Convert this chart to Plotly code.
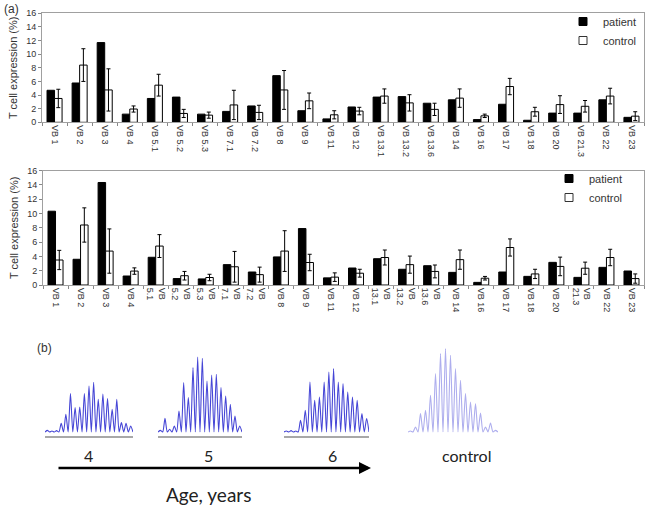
import plotly.graph_objects as go

W, H = 645, 507

categories = ["VB 1", "VB 2", "VB 3", "VB 4", "VB 5.1", "VB 5.2", "VB 5.3", "VB 7.1",
              "VB 7.2", "VB 8", "VB 9", "VB 11", "VB 12", "VB 13.1", "VB 13.2", "VB 13.6",
              "VB 14", "VB 16", "VB 17", "VB 18", "VB 20", "VB 21.3", "VB 22", "VB 23"]
bottom_ticktext = ["VB 1", "VB 2", "VB 3", "VB 4", "VB<br>5.1", "VB<br>5.2", "VB<br>5.3", "VB<br>7.1",
                   "VB<br>7.2", "VB 8", "VB 9", "VB 11", "VB 12", "VB<br>13.1", "VB<br>13.2", "VB<br>13.6",
                   "VB 14", "VB 16", "VB 17", "VB 18", "VB 20", "VB<br>21.3", "VB 22", "VB 23"]

patient_top = [4.7, 5.77, 11.7, 1.2, 3.5, 3.7, 1.2, 1.6, 2.4, 6.85, 1.7, 0.5,
               2.25, 3.7, 3.77, 2.8, 3.3, 0.4, 2.65, 0.3, 1.35, 1.35, 3.3, 0.73]
patient_bottom = [10.33, 3.6, 14.35, 1.26, 3.88, 0.9, 0.85, 2.85, 1.82, 3.93, 7.9, 1.0,
                  2.38, 3.68, 2.2, 2.7, 1.77, 0.37, 1.82, 1.21, 3.17, 1.07, 2.47, 1.96]
control_mean = [3.5, 8.4, 4.75, 1.95, 5.45, 1.3, 1.05, 2.55, 1.45, 4.75, 3.15, 1.1,
                1.65, 3.85, 2.85, 1.9, 3.55, 0.95, 5.25, 1.55, 2.6, 2.35, 3.85, 0.9]
control_err = [1.35, 2.4, 3.1, 0.45, 1.6, 0.6, 0.45, 2.15, 1.05, 2.85, 1.15, 0.6,
               0.55, 1.05, 1.2, 0.9, 1.35, 0.25, 1.2, 0.65, 1.3, 0.85, 1.15, 0.65]
y_ticks = [0, 2, 4, 6, 8, 10, 12, 14, 16]

# CDR3 spectratype peak heights (arbitrary units)
age4_peaks = [5, 3, 4, 26, 53, 115, 73, 75, 115, 138, 149, 98, 114, 100, 68, 98, 28, 26, 18]
age5_peaks = [5, 41, 8, 18, 63, 148, 103, 193, 225, 221, 153, 171, 173, 133, 108, 83, 48, 18]
age6_peaks = [3, 4, 3, 35, 65, 150, 95, 105, 150, 180, 190, 150, 145, 120, 105, 95, 55, 40]
control_peaks = [3, 15, 55, 65, 110, 175, 235, 250, 230, 190, 155, 115, 90, 85, 57, 15, 27, 5]
spectra_labels = ["4", "5", "6", "control"]

FONT = "Liberation Sans, Arial, sans-serif"
TXT = "#333333"


def px(x):
    return x / W


def py(y):
    return 1 - y / H


fig = go.Figure()

patient_marker = dict(color="black", line=dict(color="black", width=1))
control_marker = dict(color="white", line=dict(color="black", width=1))
err = dict(type="data", array=control_err, color="black", thickness=1, width=2)

for xa, ya, pvals, lg in [("x", "y", patient_top, "legend"), ("x2", "y2", patient_bottom, "legend2")]:
    fig.add_trace(go.Bar(x=categories, y=pvals, name="patient", marker=patient_marker,
                         xaxis=xa, yaxis=ya, showlegend=False))
    fig.add_trace(go.Bar(x=categories, y=control_mean, name="control", marker=control_marker,
                         error_y=err, xaxis=xa, yaxis=ya, showlegend=False))
    # legend entries (small square keys as in the original)
    fig.add_trace(go.Scatter(x=[None], y=[None], mode="markers", name="patient",
                             marker=dict(symbol="square", size=8, color="black", line=dict(color="black", width=1)),
                             xaxis=xa, yaxis=ya, legend=lg))
    fig.add_trace(go.Scatter(x=[None], y=[None], mode="markers", name="control",
                             marker=dict(symbol="square", size=8, color="white", line=dict(color="#333", width=1)),
                             xaxis=xa, yaxis=ya, legend=lg))

# ---- panel (b) spectratypes
spectra = [age4_peaks, age5_peaks, age6_peaks, control_peaks]
spec_colors = ["#4646d6", "#4646d6", "#4646d6", "#aeaeee"]
spec_domains = [(45, 133), (158, 242), (284, 369), (408, 498)]
for k, peaks in enumerate(spectra):
    xs, ys = [], []
    for i, h in enumerate(peaks):
        xs += [i - 0.5, i]
        ys += [0, h]
    xs.append(len(peaks) - 0.5)
    ys.append(0)
    n = k + 3
    fig.add_trace(go.Scatter(x=xs, y=ys, mode="lines", line=dict(color=spec_colors[k], width=1.1, shape="spline", smoothing=0.7),
                             xaxis=f"x{n}", yaxis=f"y{n}", showlegend=False, hoverinfo="skip"))

common_y = dict(range=[0, 16], tickvals=y_ticks, ticks="outside", ticklen=3, tickcolor="#888",
                showline=True, linecolor="#a0a0a0", mirror=True, showgrid=False, zeroline=False,
                tickfont=dict(size=9, color=TXT, family=FONT),
                title=dict(text="T cell expression (%)", font=dict(size=11, color=TXT, family=FONT), standoff=6))
common_x = dict(type="category", ticks="outside", ticklen=3, tickcolor="#888", tickson="boundaries",
                showline=True, linecolor="#a0a0a0", mirror=True, showgrid=False, tickangle=90,
                tickfont=dict(size=9, color=TXT, family=FONT))

layout = dict(
    width=W, height=H, margin=dict(l=0, r=0, t=0, b=0, autoexpand=False),
    paper_bgcolor="white", plot_bgcolor="white",
    barmode="group", bargap=0.4, bargroupgap=0.0,
    xaxis=dict(domain=[px(42), px(644)], anchor="y", **common_x),
    yaxis=dict(domain=[py(122.3), py(13.3)], anchor="x", **common_y),
    xaxis2=dict(domain=[px(43), px(644)], anchor="y2", tickvals=categories, ticktext=bottom_ticktext, **common_x),
    yaxis2=dict(domain=[py(285), py(170.7)], anchor="x2", **common_y),
    legend=dict(x=px(563), y=py(7), xanchor="left", yanchor="top", bgcolor="rgba(0,0,0,0)",
                font=dict(size=11, color=TXT, family=FONT), itemwidth=30, tracegroupgap=0),
    legend2=dict(x=px(549), y=py(164), xanchor="left", yanchor="top", bgcolor="rgba(0,0,0,0)",
                 font=dict(size=11, color=TXT, family=FONT), itemwidth=30, tracegroupgap=0),
    showlegend=True,
)
for k, (x0, x1) in enumerate(spec_domains):
    n = k + 3
    layout[f"xaxis{n}"] = dict(domain=[px(x0), px(x1)], anchor=f"y{n}", range=[-0.5, len(spectra[k]) - 0.5],
                               showticklabels=False, ticks="", showgrid=False, zeroline=False,
                               showline=(k < 3), linecolor="#a8a8a8", linewidth=2)
    layout[f"yaxis{n}"] = dict(domain=[py(436), py(346)], anchor=f"x{n}", range=[-12, 258],
                               visible=False, showgrid=False, zeroline=False)
fig.update_layout(**layout)

ann = [
    dict(text="(a)", x=px(2), y=py(9), xanchor="left", yanchor="middle", font=dict(size=12, color=TXT, family=FONT)),
    dict(text="(b)", x=px(35), y=py(348), xanchor="left", yanchor="middle", font=dict(size=12, color=TXT, family=FONT)),
    dict(text="Age, years", x=px(208), y=py(494), xanchor="center", yanchor="middle",
         font=dict(size=19, color="#222", family="Lato, sans-serif")),
]
label_x = [88, 208, 332, 466]
for lx, lab in zip(label_x, spectra_labels):
    ann.append(dict(text=lab, x=px(lx), y=py(455), xanchor="center", yanchor="middle",
                    font=dict(size=16, color="#222", family="Lato, sans-serif")))
ann.append(dict(text="", x=px(371), y=py(468), xref="paper", yref="paper", ax=-314, ay=0,
                showarrow=True, arrowhead=2, arrowsize=1, arrowwidth=2.4, arrowcolor="black"))
for a in ann:
    a.setdefault("xref", "paper")
    a.setdefault("yref", "paper")
    a.setdefault("showarrow", False)
fig.update_layout(annotations=ann)

fig.write_html("out.html", config={"displayModeBar": False},
               post_script="document.body.style.margin='0';document.body.style.overflow='hidden';")
